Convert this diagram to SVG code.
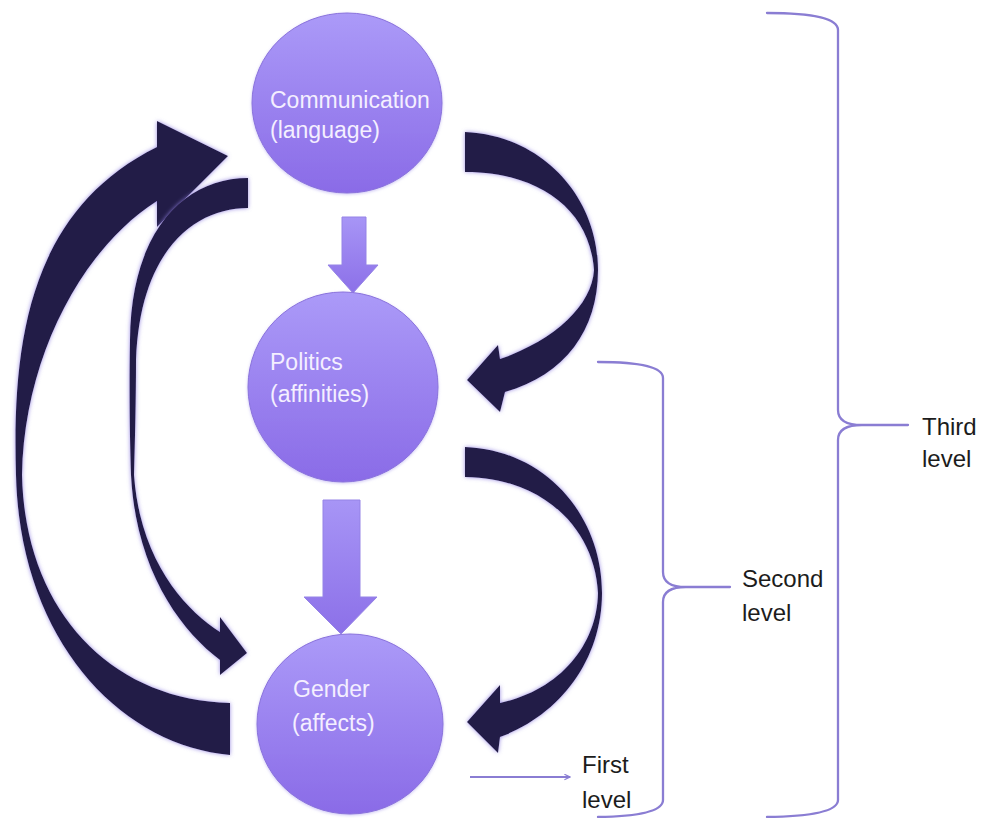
<svg xmlns="http://www.w3.org/2000/svg" width="983" height="818" viewBox="0 0 983 818">
  <defs>
    <linearGradient id="nodeFill" x1="0" y1="0" x2="0" y2="1">
      <stop offset="0" stop-color="#ab9af8"/>
      <stop offset="1" stop-color="#8a6be7"/>
    </linearGradient>
    <linearGradient id="arrowFill" x1="0" y1="0" x2="0" y2="1">
      <stop offset="0" stop-color="#a795f6"/>
      <stop offset="1" stop-color="#8c70e8"/>
    </linearGradient>
    <filter id="glow" x="-20%" y="-20%" width="140%" height="140%">
      <feDropShadow dx="0" dy="0" stdDeviation="2" flood-color="#8f7fe0" flood-opacity="0.9"/>
    </filter>
    <filter id="soft" x="-10%" y="-10%" width="120%" height="120%">
      <feDropShadow dx="0" dy="1" stdDeviation="1.5" flood-color="#b9aef0" flood-opacity="0.7"/>
    </filter>
    <marker id="lineHead" viewBox="0 0 10 10" refX="9" refY="5" markerWidth="7" markerHeight="7" markerUnits="userSpaceOnUse" orient="auto">
      <path d="M1,1 L9,5 L1,9" fill="none" stroke="#8a7dd3" stroke-width="1.6"/>
    </marker>
  </defs>
  <style>
    .node { fill: url(#nodeFill); stroke: #8a72dc; stroke-width: 1; filter: url(#soft); }
    .ntext { font-family: "Liberation Sans", Arial, sans-serif; font-size: 23px; fill: #f4efff; }
    .label { font-family: "Liberation Sans", Arial, sans-serif; font-size: 24px; fill: #1c1c1c; }
    .dark { fill: #241b47; filter: url(#glow); }
    .light { fill: url(#arrowFill); stroke: #9583e6; stroke-width: 1; }
    .brace { fill: none; stroke: #8a7dd3; stroke-width: 2.3; stroke-linecap: round; stroke-linejoin: round; }
    .lvl { fill: none; stroke: #8a7dd3; stroke-width: 2.2; }
  </style>
  <rect width="983" height="818" fill="#ffffff"/>

  <g id="connectors">
    <!-- Communication -> Politics (straight) -->
    <polygon class="light" points="342,217 366,217 366,265 378,265 353,293 328,265 342,265"/>
    <!-- Politics -> Gender (straight) -->
    <polygon class="light" points="323,500 360,500 360,597 377,597 341,634 304,597 323,597"/>
    <!-- Communication -> Politics (curved, right) -->
    <path class="dark" d="M465,132 C540,135 598,195 598,270 C598,330 565,375 505,392 L500,412 L467,380 L498,345 L500,359 C555,340 592,305 594,270 C590,210 540,172 465,172 Z"/>
    <!-- Politics -> Gender (curved, right) -->
    <path class="dark" d="M465,447 C545,450 602,515 602,593 C602,660 560,715 500,737 L498,753 L467,722 L500,685 L500,703 C560,690 597,645 598,593 C595,530 545,478 465,477 Z"/>
    <!-- Gender -> Communication (curved, left outer) -->
    <path class="dark" d="M230,755 C120,745 20,640 16,475 C12,340 30,210 157,147 L157,121 L228,156 L157,227 L157,201 C80,250 24,360 22,475 C25,610 110,700 230,703 Z"/>
    <!-- Communication -> Gender (curved, left inner) -->
    <path class="dark" d="M248,178 C185,178 131,230 130,340 C129,400 130,440 131,475 C136,570 180,630 220,660 L220,675 L247,653 L220,617 L220,632 C185,610 140,560 134,475 C135,440 136,400 136,360 C140,250 195,208 248,208 Z"/>
    <!-- First level pointer -->
    <line class="lvl" x1="470" y1="777" x2="570" y2="777" marker-end="url(#lineHead)"/>
  </g>

  <g id="node-communication">
    <ellipse class="node" cx="347" cy="103" rx="95" ry="90"/>
    <text class="ntext" x="270" y="108">Communication</text>
    <text class="ntext" x="270" y="138">(language)</text>
  </g>

  <g id="node-politics">
    <ellipse class="node" cx="343" cy="387" rx="95" ry="95"/>
    <text class="ntext" x="270" y="370">Politics</text>
    <text class="ntext" x="270" y="402">(affinities)</text>
  </g>

  <g id="node-gender">
    <ellipse class="node" cx="350" cy="724" rx="93" ry="90"/>
    <text class="ntext" x="293" y="697">Gender</text>
    <text class="ntext" x="292" y="731">(affects)</text>
  </g>

  <g id="brackets">
    <path class="brace" d="M767,13 Q838,13 838,30 L838,410 Q838,425 862,425 L908,425 M862,425 Q838,425 838,440 L838,800 Q838,816 767,817"/>
    <path class="brace" d="M598,362 Q663,362 663,378 L663,572 Q663,587 686,587 L730,587 M686,587 Q663,587 663,602 L663,800 Q663,816 598,817"/>
  </g>

  <g id="labels">
    <text class="label" x="922" y="435">Third</text>
    <text class="label" x="922" y="467">level</text>
    <text class="label" x="742" y="587">Second</text>
    <text class="label" x="742" y="621">level</text>
    <text class="label" x="582" y="773">First</text>
    <text class="label" x="582" y="808">level</text>
  </g>
</svg>
